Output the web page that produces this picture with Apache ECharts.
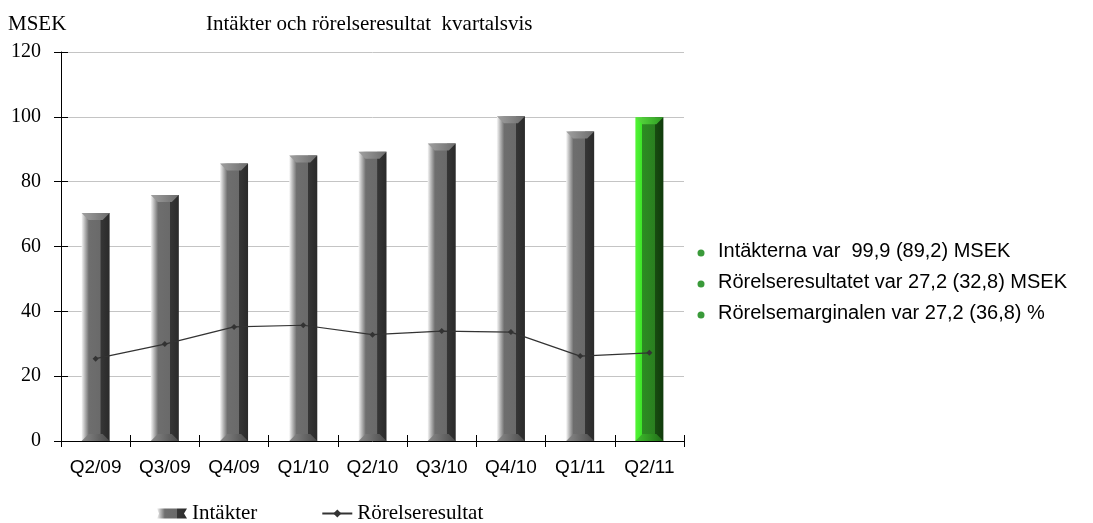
<!DOCTYPE html>
<html>
<head>
<meta charset="utf-8">
<script src="https://cdn.jsdelivr.net/npm/echarts@6/dist/echarts.min.js"></script>
<style>
html,body{margin:0;padding:0;background:#fff;}
#chart{width:1093px;height:523px;}
</style>
</head>
<body>
<div id="chart"></div>
<script>
const categories = ['Q2/09','Q3/09','Q4/09','Q1/10','Q2/10','Q3/10','Q4/10','Q1/11','Q2/11'];
const intakter = [70.3, 75.9, 85.6, 88.1, 89.2, 91.8, 100.2, 95.5, 99.9];
const rorelseresultat = [25.4, 29.9, 35.2, 35.7, 32.8, 33.9, 33.6, 26.2, 27.2];
const yTicks = [0, 20, 40, 60, 80, 100, 120];
const bullets = [
  'Intäkterna var  99,9 (89,2) MSEK',
  'Rörelseresultatet var 27,2 (32,8) MSEK',
  'Rörelsemarginalen var 27,2 (36,8) %'
];
const highlightIndex = categories.length - 1;

const BAR_W = 28, BEVEL = 7;

function grayGrad(){ return new echarts.graphic.LinearGradient(0,0,1,0,[
  {offset:0, color:'#f6f6f6'},
  {offset:0.12, color:'#b5b5b5'},
  {offset:0.26, color:'#6e6e6e'},
  {offset:0.67, color:'#6a6a6a'},
  {offset:0.68, color:'#363636'},
  {offset:1, color:'#2a2a2a'}
]);}
function greenGrad(){ return new echarts.graphic.LinearGradient(0,0,1,0,[
  {offset:0, color:'#52f535'},
  {offset:0.22, color:'#3fe52a'},
  {offset:0.25, color:'#2c8c22'},
  {offset:0.69, color:'#2a7f20'},
  {offset:0.71, color:'#174c10'},
  {offset:1, color:'#113a0c'}
]);}

const chart = echarts.init(document.getElementById('chart'));
const barData = intakter.map((v,i)=> i === highlightIndex ? {value:v, itemStyle:{color:greenGrad()}} : v);
const capData = intakter.map((v,i)=> [i, v]);

function renderCaps(params, api){
  const i = api.value(0);
  const topPt = api.coord([i, api.value(1)]);
  const basePt = api.coord([i, 0]);
  const cx = topPt[0], top = topPt[1], bot = basePt[1];
  const h = BAR_W/2, b = BEVEL;
  const green = i === highlightIndex;
  const topFill = new echarts.graphic.LinearGradient(0,0,1,0, green ?
    [{offset:0,color:'#5be040'},{offset:1,color:'#2e9a22'}] :
    [{offset:0,color:'#a0a0a0'},{offset:1,color:'#6c6c6c'}]);
  const botFill = new echarts.graphic.LinearGradient(0,0,1,0, green ?
    [{offset:0,color:'#3fc02c'},{offset:1,color:'#206a18'}] :
    [{offset:0,color:'#8a8a8a'},{offset:1,color:'#4a4a4a'}]);
  return {type:'group', children:[
    {type:'polygon', shape:{points:[[cx-h,top],[cx+h,top],[cx+h-b,top+b],[cx-h+b,top+b]]}, style:{fill:topFill}},
    {type:'polygon', shape:{points:[[cx-h,bot],[cx+h,bot],[cx+h-b,bot-b],[cx-h+b,bot-b]]}, style:{fill:botFill}}
  ]};
}

chart.setOption({
  animation:false,
  textStyle:{fontFamily:'Liberation Serif'},
  grid:{left:61, right:409, top:52, bottom:82, containLabel:false},
  legend:{
    top:498, left:152, itemGap:64, itemWidth:30, itemHeight:10,
    textStyle:{fontFamily:'Liberation Serif', fontSize:21, color:'#000'},
    data:[{name:'Intäkter', icon:'path://M0,0 L300,0 L270,50 L300,100 L0,100 L20,50 Z'}, {name:'Rörelseresultat'}]
  },
  xAxis:[{
    type:'category', data:categories,
    axisLine:{lineStyle:{color:'#000', width:1}},
    axisTick:{show:true, length:6, lineStyle:{color:'#000'}},
    axisLabel:{fontFamily:'Liberation Sans', fontSize:19, color:'#000', margin:17}
  },{
    type:'category', data:categories, position:'bottom',
    axisLine:{show:false},
    axisTick:{show:true, inside:true, length:6, lineStyle:{color:'#000'}},
    axisLabel:{show:false}, splitLine:{show:false}
  }],
  yAxis:[{
    type:'value', min:0, max:120, interval:20,
    axisLine:{show:true, lineStyle:{color:'#000'}},
    axisTick:{show:true, length:7, lineStyle:{color:'#000'}},
    axisLabel:{fontFamily:'Liberation Serif', fontSize:20, color:'#000', margin:20},
    splitLine:{lineStyle:{color:'#c4c4c4', width:1}}
  },{
    type:'value', min:0, max:120, interval:20, position:'left',
    axisLine:{show:false},
    axisTick:{show:true, inside:true, length:7, lineStyle:{color:'#000'}},
    axisLabel:{show:false}, splitLine:{show:false}
  }],
  series:[
    {name:'Intäkter', type:'bar', data:barData, barWidth:BAR_W, itemStyle:{color:grayGrad()}, z:2},
    {name:'caps', type:'custom', data:capData, renderItem:renderCaps, encode:{x:0, y:1}, z:3, silent:true},
    {name:'Rörelseresultat', type:'line', data:rorelseresultat, symbol:'diamond', symbolSize:6, z:5,
     lineStyle:{color:'#333', width:1.2}, itemStyle:{color:'#333'}}
  ],
  graphic:[
    {type:'text', left:8, top:14, style:{text:'MSEK', fontFamily:'Liberation Serif', fontSize:21, fill:'#000'}},
    {type:'text', left:206, top:14, style:{text:'Intäkter och rörelseresultat  kvartalsvis', fontFamily:'Liberation Serif', fontSize:21, fill:'#000'}},
  ].concat(bullets.flatMap((t,i)=>[
    {type:'circle', shape:{cx:701, cy:253+i*31, r:3.5}, style:{fill:'#3a9a3a'}},
    {type:'text', left:718, top:241+i*31, style:{text:t, fontFamily:'Liberation Sans', fontSize:20, fill:'#000'}}
  ]))
});
</script>
</body>
</html>
